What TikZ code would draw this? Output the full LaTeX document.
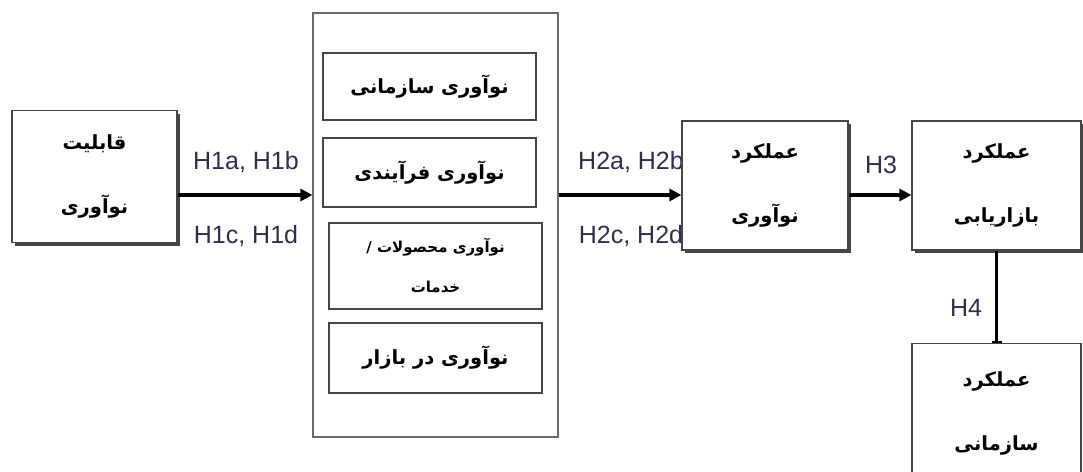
\documentclass[tikz,border=0pt]{standalone}
\usepackage{fontspec}
\setmainfont{Liberation Sans}
\newfontfamily\farsi[Script=Arabic]{DejaVu Sans}
\TeXXeTstate=1
\usetikzlibrary{arrows.meta, positioning, shadows}
\definecolor{boxgray}{RGB}{70,70,70}
\definecolor{labelink}{RGB}{50,45,80}

\begin{document}
\begin{tikzpicture}[x=1pt, y=-1pt,
    box/.style={draw=boxgray, line width=1.2pt, fill=white, align=center, inner sep=0pt},
    shadowed/.style={drop shadow={shadow xshift=3pt, shadow yshift=-3pt, fill=boxgray, opacity=1}},
    fatext/.style={font=\farsi\bfseries\fontsize{19.5}{64}\selectfont},
    arrow/.style={-{Triangle[length=12pt, width=12pt]}, line width=3.8pt},
    hlabel/.style={font=\fontsize{25}{25}\selectfont, text=labelink}
]
\useasboundingbox (0,0) rectangle (1083,471);
\clip (0,0) rectangle (1083,471);

% Hypothesis labels
\node[hlabel] (h1ab) at (246,162) {H1a, H1b};
\node[hlabel] (h1cd) at (246,236) {H1c, H1d};
\node[hlabel] (h2ab) at (631,162) {H2a, H2b};
\node[hlabel] (h2cd) at (631,236) {H2c, H2d};
\node[hlabel] (h3) at (881,165) {H3};
\node[hlabel] (h4) at (966,308) {H4};

% Innovation capability
\node[box, shadowed, fatext, minimum width=165pt, minimum height=132pt] (cap) at (94.5,176.5) {
    \beginR قابلیت\endR\\
    \beginR نوآوری\endR
};

% Group of innovation types
\node[box, draw=boxgray!80, minimum width=245pt, minimum height=424pt] (group) at (435.5,225) {};
\node[box, fatext, minimum width=213pt, minimum height=67pt] (org) at (429.5,86.5) {\beginR نوآوری سازمانی\endR};
\node[box, fatext, minimum width=213pt, minimum height=69pt] (proc) at (429.5,172.5) {\beginR نوآوری فرآیندی\endR};
\node[box, font=\farsi\bfseries\fontsize{15}{40}\selectfont, minimum width=213pt, minimum height=86pt] (prod) at (435.5,266) {
    \beginR نوآوری محصولات /\endR\\
    \beginR خدمات\endR
};
\node[box, fatext, minimum width=213pt, minimum height=70pt] (mkt) at (435.5,358) {\beginR نوآوری در بازار\endR};

% Performance boxes
\node[box, shadowed, fatext, minimum width=166pt, minimum height=129pt] (innperf) at (765,185.5) {
    \beginR عملکرد\endR\\
    \beginR نوآوری\endR
};
\node[box, shadowed, fatext, minimum width=169pt, minimum height=129pt] (mktperf) at (996.5,185.5) {
    \beginR عملکرد\endR\\
    \beginR بازاریابی\endR
};
\node[box, fatext, minimum width=169pt, minimum height=140pt, anchor=north] (orgperf) at (996.5,343) {
    \beginR عملکرد\endR\\
    \beginR سازمانی\endR
};

% Arrows
\coordinate (lvl) at (0,195);
\draw[arrow] (cap.east |- lvl) -- (group.west |- lvl);
\draw[arrow] (group.east |- lvl) -- (innperf.west |- lvl);
\draw[arrow] (innperf.east |- lvl) -- (mktperf.west |- lvl);
\draw[line width=3pt, -{Bar[width=10pt, line width=2pt]}] (mktperf.south) -- (orgperf.north);

\end{tikzpicture}
\end{document}
